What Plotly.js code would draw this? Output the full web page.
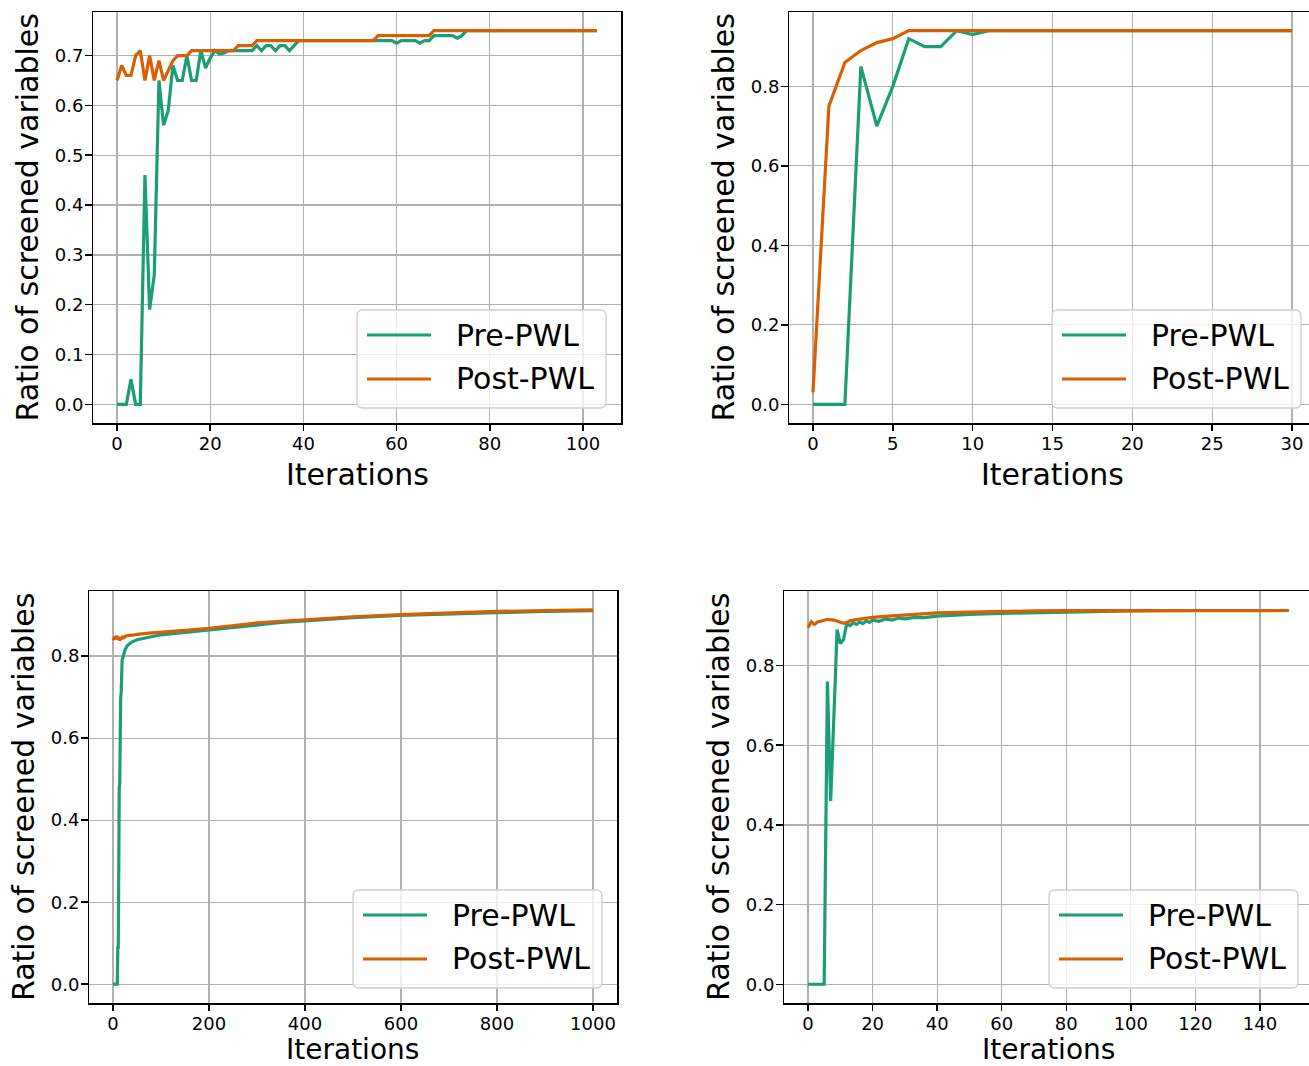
<!DOCTYPE html>
<html><head><meta charset="utf-8">
<script src="https://cdn.plot.ly/plotly-3.0.1.min.js"></script>
<style>
html,body{margin:0;padding:0;overflow:hidden;background:#fff;width:1309px;height:1066px}
#chart{width:1320px;height:1066px}
</style>
</head><body><div id="chart"></div>
<script>
// ---------- data ----------
const seriesNames = ['Pre-PWL', 'Post-PWL'];
const seriesColors = ['#1b9e77', '#d95f02'];
const xTitle = 'Iterations';
const yTitle = 'Ratio of screened variables';

// Panel 1 (top-left)
const p1PreX = [0,1,2,3,4,5,6,7,8,9,10,11,12,13,14,15,16,17,18,19,20,21,22,23,24,25,26,29,30,31,32,33,34,35,36,37,38,39,55,56,59,60,61,64,65,66,67,68,72,73,74,75,103];
const p1PreY = [0,0,0,0.05,0,0,0.46,0.19,0.26,0.65,0.56,0.59,0.68,0.65,0.65,0.70,0.65,0.65,0.71,0.675,0.695,0.71,0.703,0.705,0.71,0.71,0.71,0.71,0.72,0.71,0.72,0.72,0.71,0.72,0.72,0.71,0.72,0.73,0.73,0.73,0.73,0.725,0.73,0.73,0.725,0.73,0.73,0.74,0.74,0.735,0.74,0.75,0.75];
const p1PostX = [0,1,2,3,4,5,6,7,8,9,10,11,12,13,14,15,16,25,26,29,30,55,56,67,68,103];
const p1PostY = [0.65,0.68,0.66,0.66,0.70,0.71,0.65,0.70,0.65,0.69,0.65,0.67,0.69,0.70,0.70,0.70,0.71,0.71,0.72,0.72,0.73,0.73,0.74,0.74,0.75,0.75];

// Panel 2 (top-right)
const p2PreX = [0,1,2,3,4,5,6,7,8,9,10,11,30];
const p2PreY = [0,0,0,0.85,0.70,0.80,0.92,0.90,0.90,0.94,0.93,0.94,0.94];
const p2PostX = [0,1,2,3,4,5,6,30];
const p2PostY = [0.03,0.75,0.86,0.89,0.91,0.92,0.94,0.94];

// Panel 3 (bottom-left)
const p3PreX = [0,9,10,11,13,14,16,17,19,21,25,30,40,50,75,100,150,200,250,300,350,400,450,500,600,700,800,900,1000];
const p3PreY = [0,0,0.09,0.09,0.48,0.49,0.70,0.71,0.79,0.80,0.815,0.826,0.835,0.840,0.847,0.852,0.858,0.864,0.871,0.877,0.882,0.886,0.890,0.894,0.899,0.903,0.906,0.909,0.911];
const p3PostX = [0,2,4,6,8,10,12,14,16,18,20,22,25,30,40,50,75,100,150,200,250,300,350,400,450,500,600,700,800,900,1000];
const p3PostY = [0.845,0.840,0.848,0.842,0.850,0.840,0.847,0.838,0.846,0.841,0.849,0.843,0.848,0.850,0.851,0.853,0.856,0.858,0.863,0.868,0.875,0.881,0.885,0.889,0.893,0.896,0.901,0.905,0.909,0.911,0.913];

// Panel 4 (bottom-right)
const p4PreX = [0,5,6,7,8,9,10,11,12,13,14,15,16,17,18,19,20,22,24,26,28,30,33,36,40,45,50,60,70,80,100,120,149];
const p4PreY = [0,0,0.76,0.46,0.67,0.89,0.855,0.865,0.905,0.900,0.907,0.903,0.909,0.905,0.912,0.908,0.914,0.911,0.917,0.914,0.919,0.917,0.921,0.920,0.924,0.925,0.928,0.931,0.933,0.935,0.937,0.938,0.938];
const p4PostX = [0,1,2,3,4,6,8,10,11,12,13,15,20,25,30,40,50,60,70,80,100,120,149];
const p4PostY = [0.895,0.910,0.903,0.910,0.911,0.916,0.914,0.909,0.906,0.908,0.912,0.915,0.921,0.924,0.927,0.932,0.934,0.936,0.937,0.9375,0.938,0.938,0.938];

// ---------- layout helpers ----------
const W = 1320, H = 1066;
const FONT = 'DejaVu Sans';
const px = v => v / W;
const py = v => 1 - v / H;

const panels = [
  {pre:[p1PreX,p1PreY], post:[p1PostX,p1PostY], box:[93,621,12,423], xr:[-5.15,108.15], yr:[-0.0375,0.7875], xd:20, yd:0.1, ty:474, ts:30},
  {pre:[p2PreX,p2PreY], post:[p2PostX,p2PostY], box:[789,1316,12,423], xr:[-1.5,31.5], yr:[-0.047,0.987], xd:5, yd:0.2, ty:474, ts:30},
  {pre:[p3PreX,p3PreY], post:[p3PostX,p3PostY], box:[89,617,591,1003], xr:[-50,1050], yr:[-0.0458,0.9588], xd:200, yd:0.2, ty:1049.5, ts:28},
  {pre:[p4PreX,p4PreY], post:[p4PostX,p4PostY], box:[784,1313,591,1003], xr:[-7.45,156.45], yr:[-0.047,0.987], xd:20, yd:0.2, ty:1049.5, ts:28}
];

const traces = [];
const layout = {
  width: W, height: H,
  margin: {l:0, r:0, t:0, b:0},
  paper_bgcolor: '#fff', plot_bgcolor: '#fff',
  showlegend: false,
  font: {family: FONT, color: '#000'},
  annotations: [], shapes: []
};

const axisCommon = {
  showline: true, mirror: true, linecolor: '#000', linewidth: 1.5,
  ticks: 'outside', ticklen: 6.5, tickwidth: 1.5, tickcolor: '#000',
  showgrid: true, gridcolor: '#b0b0b0', gridwidth: 1.3,
  zeroline: false, tickfont: {family: FONT, size: 18, color: '#000'},
  ticklabelstandoff: -3, tickmode: 'linear', tick0: 0, fixedrange: true
};

panels.forEach((p, i) => {
  const n = i === 0 ? '' : String(i + 1);
  const [l, r, t, b] = p.box;
  layout['xaxis' + n] = Object.assign({}, axisCommon, {
    domain: [px(l), px(r)], range: p.xr, dtick: p.xd, anchor: 'y' + n
  });
  layout['yaxis' + n] = Object.assign({}, axisCommon, {
    domain: [py(b), py(t)], range: p.yr, dtick: p.yd, tickformat: '.1f', anchor: 'x' + n,
    ticklabelstandoff: -2
  });
  [p.pre, p.post].forEach((s, k) => {
    traces.push({
      type: 'scatter', mode: 'lines', name: seriesNames[k],
      x: s[0], y: s[1], xaxis: 'x' + n, yaxis: 'y' + n,
      line: {color: seriesColors[k], width: 3.2}, hoverinfo: 'skip'
    });
  });
  // axis titles
  layout.annotations.push({
    text: xTitle, xref: 'paper', yref: 'paper', x: px((l + r) / 2), y: py(p.ty),
    showarrow: false, xanchor: 'center', yanchor: 'middle', font: {family: FONT, size: p.ts, color: '#000'}
  });
  layout.annotations.push({
    text: yTitle, xref: 'paper', yref: 'paper', x: px(l - 66), y: py((t + b) / 2),
    showarrow: false, textangle: -90, xanchor: 'center', yanchor: 'middle', font: {family: FONT, size: 30, color: '#000'}
  });
  // legend box
  const bR = r - 15, bB = b - 15, bL = bR - 249, bT = bB - 98, rad = 6;
  const pth = `M ${px(bL + rad)},${py(bT)} L ${px(bR - rad)},${py(bT)} Q ${px(bR)},${py(bT)} ${px(bR)},${py(bT + rad)} ` +
    `L ${px(bR)},${py(bB - rad)} Q ${px(bR)},${py(bB)} ${px(bR - rad)},${py(bB)} L ${px(bL + rad)},${py(bB)} ` +
    `Q ${px(bL)},${py(bB)} ${px(bL)},${py(bB - rad)} L ${px(bL)},${py(bT + rad)} Q ${px(bL)},${py(bT)} ${px(bL + rad)},${py(bT)} Z`;
  layout.shapes.push({type: 'path', xref: 'paper', yref: 'paper', path: pth, layer: 'above',
    fillcolor: 'rgba(255,255,255,0.8)', line: {color: '#d0d0d0', width: 1.3}});
  seriesNames.forEach((nm, k) => {
    const yy = bT + 25 + 44 * k;
    layout.shapes.push({type: 'line', xref: 'paper', yref: 'paper', layer: 'above',
      x0: px(bL + 10), x1: px(bL + 74), y0: py(yy), y1: py(yy), line: {color: seriesColors[k], width: 3.2}});
    layout.annotations.push({text: nm, xref: 'paper', yref: 'paper', x: px(bL + 97), y: py(yy),
      showarrow: false, xanchor: 'left', yanchor: 'middle', font: {family: FONT, size: 30, color: '#000'}});
  });
});

Plotly.newPlot('chart', traces, layout, {staticPlot: true, displayModeBar: false});
</script>
</body></html>
